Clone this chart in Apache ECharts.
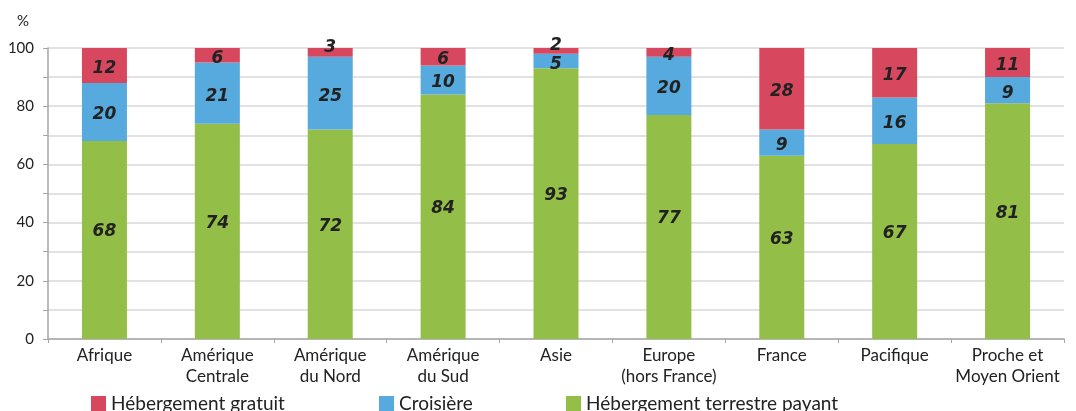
<!DOCTYPE html>
<html><head><meta charset="utf-8">
<script src="https://cdn.jsdelivr.net/npm/echarts@6/dist/echarts.min.js"></script>
<style>html,body{margin:0;padding:0;background:#fff}#c{width:1076px;height:411px}</style>
</head><body><div id="c"></div>
<script>
const categories = ['Afrique','Amérique\nCentrale','Amérique\ndu Nord','Amérique\ndu Sud','Asie','Europe\n(hors France)','France','Pacifique','Proche et\nMoyen Orient'];
const terrestrePayant = [68,74,72,84,93,77,63,67,81];
const croisiere = [20,21,25,10,5,20,9,16,9];
const gratuit = [12,6,3,6,2,4,28,17,11];
const yTicks = [0,20,40,60,80,100];

const FONT = 'Lato';
const chart = echarts.init(document.getElementById('c'));
function ser(name, data, color, dy) {
  return {
    name, type: 'bar', stack: 'a', data: data.map(v => ({
      value: v,
      label: v <= 3 ? { offset: [0, -5] } : {}
    })),
    barWidth: 45, itemStyle: { color },
    label: { show: true, position: 'inside', offset: [0, dy], color: '#222', fontFamily: 'DejaVu Sans', fontWeight: 'bold', fontStyle: 'italic', fontSize: 17 }
  };
}
const legendText = { fontFamily: FONT, fontSize: 19, color: '#222' };
chart.setOption({
  animation: false,
  textStyle: { fontFamily: FONT },
  grid: { left: 48, right: 12, top: 48, bottom: 72 },
  graphic: [{ type: 'text', left: 17, top: 14, style: { text: '%', font: '15px Lato', fill: '#222' } }],
  legend: [
    { left: 91, top: 394, padding: 0, itemWidth: 15, itemHeight: 15, icon: 'rect', data: ['Hébergement gratuit'], textStyle: legendText },
    { left: 379, top: 394, padding: 0, itemWidth: 15, itemHeight: 15, icon: 'rect', data: ['Croisière'], textStyle: legendText },
    { left: 566, top: 394, padding: 0, itemWidth: 15, itemHeight: 15, icon: 'rect', data: ['Hébergement terrestre payant'], textStyle: legendText }
  ],
  xAxis: {
    type: 'category', data: categories,
    axisLine: { lineStyle: { color: '#a6a6a6', width: 1.5 } },
    axisTick: { show: true, length: 4, lineStyle: { color: '#a6a6a6' } },
    axisLabel: { color: '#222', fontFamily: FONT, fontSize: 17, lineHeight: 21, margin: 6, interval: 0 }
  },
  yAxis: {
    type: 'value', min: 0, max: 100, interval: 10,
    axisLine: { show: true, lineStyle: { color: '#a6a6a6', width: 1.5 } },
    axisTick: { show: true, length: 5, lineStyle: { color: '#a6a6a6' } },
    splitLine: { lineStyle: { color: '#d9d9d9', width: 1.5 } },
    axisLabel: { color: '#222', fontFamily: FONT, fontSize: 15, margin: 14,
      formatter: v => yTicks.includes(v) ? String(v) : '' }
  },
  series: [
    ser('Hébergement terrestre payant', terrestrePayant, '#93bf49', -8),
    ser('Croisière', croisiere, '#57aade', 3),
    ser('Hébergement gratuit', gratuit, '#d7485f', 3)
  ]
});
</script></body></html>
